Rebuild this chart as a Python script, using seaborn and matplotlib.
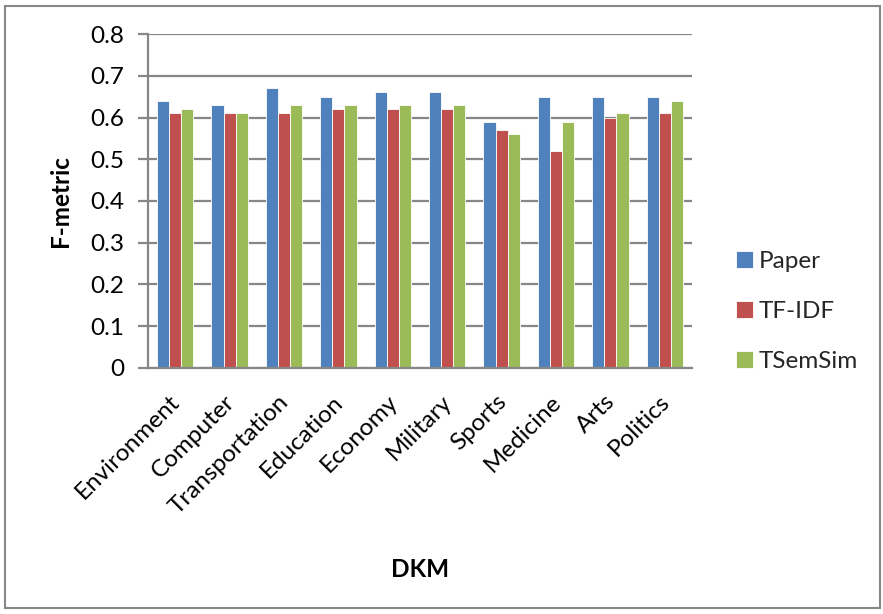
import matplotlib
matplotlib.use("Agg")
import matplotlib.pyplot as plt
import seaborn as sns
import pandas as pd
from matplotlib.patches import Rectangle
from matplotlib.transforms import ScaledTranslation

categories = ["Environment", "Computer", "Transportation", "Education", "Economy",
              "Military", "Sports", "Medicine", "Arts", "Politics"]
series_names = ["Paper", "TF-IDF", "TSemSim"]
paper = [0.64, 0.63, 0.67, 0.65, 0.66, 0.66, 0.59, 0.65, 0.65, 0.65]
tfidf = [0.61, 0.61, 0.61, 0.62, 0.62, 0.62, 0.57, 0.52, 0.60, 0.61]
tsemsim = [0.62, 0.61, 0.63, 0.63, 0.63, 0.63, 0.56, 0.59, 0.61, 0.64]
y_ticks = [0, 0.1, 0.2, 0.3, 0.4, 0.5, 0.6, 0.7, 0.8]
y_tick_labels = ["0", "0.1", "0.2", "0.3", "0.4", "0.5", "0.6", "0.7", "0.8"]

df = pd.DataFrame({
    "DKM": categories * 3,
    "F-metric": paper + tfidf + tsemsim,
    "Method": [s for s in series_names for _ in categories],
})

sns.set_theme(style="white")
plt.rcParams["font.family"] = ["Lato", "DejaVu Sans"]

grid_col = "#878787"
palette = ["#4F81BD", "#C0504D", "#9BBB59"]
fs = 17.5

fig = plt.figure(figsize=(8.83, 6.14), dpi=100)
ax = fig.add_axes([0.1676, 0.4007, 0.6161, 0.5439])

sns.barplot(data=df, x="DKM", y="F-metric", hue="Method", order=categories,
            hue_order=series_names, palette=palette, width=0.67, ax=ax,
            edgecolor="white", linewidth=0.6, saturation=1, legend=True)

ax.set_ylim(0, 0.8)
ax.set_xlim(-0.5, len(categories) - 0.5)
ax.set_yticks(y_ticks)
ax.set_yticklabels(y_tick_labels, fontsize=fs, color="black")
ax.yaxis.grid(True, color=grid_col, linewidth=1.6)
ax.set_axisbelow(True)
for side in ["top", "right"]:
    ax.spines[side].set_visible(False)
for side in ["left", "bottom"]:
    ax.spines[side].set_color(grid_col)
    ax.spines[side].set_linewidth(1.6)
ax.tick_params(axis="y", which="both", left=True, length=7, width=1.6,
               color=grid_col, pad=10)
ax.tick_params(axis="x", bottom=False, pad=2)

ax.set_xticks(range(len(categories)))
ax.set_xticklabels(categories, rotation=45, ha="right", rotation_mode="anchor",
                   fontsize=fs, color="black")
offset = ScaledTranslation(-6 / 100, -12 / 100, fig.dpi_scale_trans)
for lbl in ax.get_xticklabels():
    lbl.set_transform(lbl.get_transform() + offset)

ax.set_xlabel("DKM", fontsize=fs, fontweight="bold", color="black")
ax.xaxis.set_label_coords(0.5, -0.57)
ax.set_ylabel("F-metric", fontsize=fs, fontweight="bold", color="black")
ax.yaxis.set_label_coords(-0.14, 0.5)

handles, labels = ax.get_legend_handles_labels()
ax.legend_.remove()
fig.legend(handles, labels, loc="center left", bbox_to_anchor=(0.822, 0.4925),
           frameon=False, fontsize=fs, labelspacing=1.2, handlelength=0.7,
           handleheight=0.7, handletextpad=0.25, borderaxespad=0)

fig.patches.append(Rectangle((0.006, 0.01), 0.991, 0.981, transform=fig.transFigure,
                             fill=False, edgecolor=grid_col, linewidth=1.5))

fig.savefig("out.png", dpi=100, facecolor="white")
